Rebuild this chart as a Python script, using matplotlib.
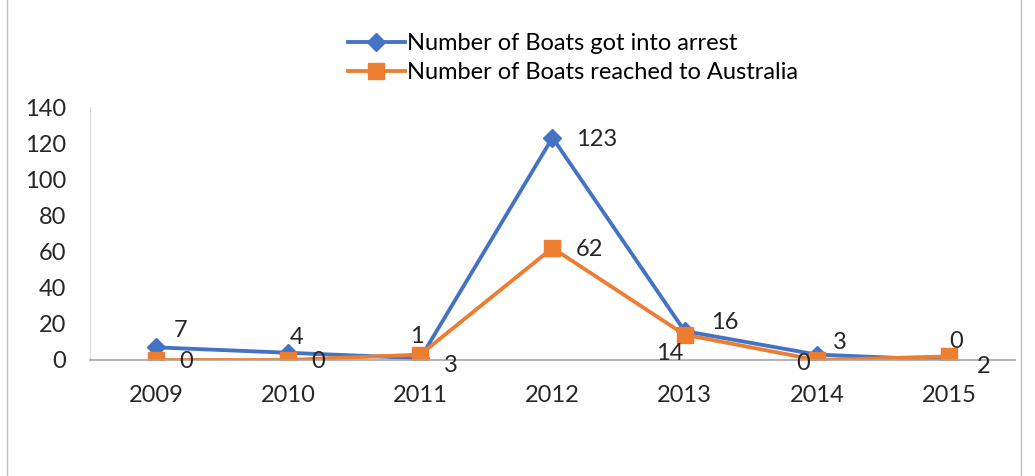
import numpy as np
import matplotlib
matplotlib.use('Agg')
import matplotlib.pyplot as plt
from matplotlib.patches import Rectangle

plt.rcParams['font.family'] = ['Lato', 'DejaVu Sans']

years = ['2009', '2010', '2011', '2012', '2013', '2014', '2015']
arrest = [7, 4, 1, 123, 16, 3, 0]
reached = [0, 0, 3, 62, 14, 0, 2]

# label offsets (pixels) as Excel placed them
arrest_off = [(24, 17), (8, 15), (-3, 22), (44, -2), (40, 9), (23, 12), (7, 18)]
reached_off = [(30, -2), (30, -2), (31, -11), (37, -2), (-15, -19), (-14, -4), (35, -10)]

blue = '#4472C4'
orange = '#ED7D31'
fs = 17

fig = plt.figure(figsize=(10.35, 4.76), dpi=100)
ax = fig.add_axes([90/1035, 1-360/476, (1015-90)/1035, (360-107)/476])

x = np.arange(len(years))
ax.plot(x, arrest, color=blue, lw=2.75, marker='D', ms=9, label='Number of Boats got into arrest')
ax.plot(x, reached, color=orange, lw=2.75, marker='s', ms=11, label='Number of Boats reached to Australia')

for i in range(len(years)):
    ax.annotate(str(arrest[i]), (x[i], arrest[i]), xytext=arrest_off[i], textcoords='offset pixels',
                ha='center', va='center', fontsize=fs, color='#262626')
    ax.annotate(str(reached[i]), (x[i], reached[i]), xytext=reached_off[i], textcoords='offset pixels',
                ha='center', va='center', fontsize=fs, color='#262626')

ax.set_xlim(-0.5, 6.5)
ax.set_ylim(0, 140)
ax.set_yticks(np.arange(0, 141, 20))
ax.set_xticks(x)
ax.set_xticklabels(years)
ax.tick_params(length=0, labelsize=fs, colors='#262626')
ax.tick_params(axis='y', pad=17)
ax.tick_params(axis='x', pad=18)
for s in ['top', 'right']:
    ax.spines[s].set_visible(False)
ax.spines['left'].set_color('#D9D9D9')
ax.spines['bottom'].set_color('#A6A6A6')
ax.spines['bottom'].set_linewidth(1.2)

fig.legend(loc='upper left', bbox_to_anchor=(348/1035, 1-33/476), frameon=False,
           fontsize=fs, handlelength=2.4, handletextpad=0.1, labelspacing=0.34,
           borderaxespad=0, borderpad=0)

fig.patches.append(Rectangle((7/1035, -0.1), (1021-7)/1035, 1.2, transform=fig.transFigure,
                             fill=False, edgecolor='#BFBFBF', lw=1))

fig.savefig('out.png', dpi=100)
